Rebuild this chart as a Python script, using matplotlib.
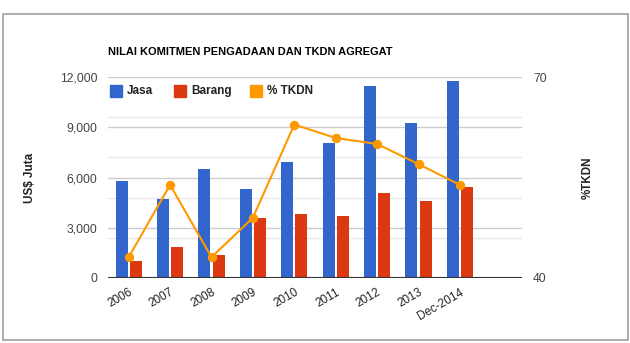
import matplotlib
matplotlib.use("Agg")
import matplotlib.pyplot as plt
from matplotlib.patches import Rectangle
import numpy as np

plt.rcParams['font.family'] = ['Liberation Sans', 'DejaVu Sans']

categories = ["2006", "2007", "2008", "2009", "2010", "2011", "2012", "2013", "Dec-2014"]
jasa = [5800, 4700, 6500, 5330, 6900, 8040, 11450, 9230, 11750]
barang = [1000, 1830, 1350, 3560, 3800, 3680, 5050, 4580, 5450]
tkdn = [43.1, 53.9, 43.1, 49.0, 62.9, 60.9, 60.0, 57.0, 53.9]

left_ticks = [0, 3000, 6000, 9000, 12000]
right_min, right_max = 40, 70
right_grid = [46, 52, 58, 64]

C_JASA = "#3366CC"
C_BARANG = "#DC3912"
C_TKDN = "#FF9900"

W, H = 630, 343
fig = plt.figure(figsize=(W / 100, H / 100), dpi=100)

# outer frame
fig.patches.append(Rectangle((2.5 / W, (H - 340) / H), (628 - 2.5) / W, (340 - 14) / H,
                             transform=fig.transFigure, fill=False, edgecolor="#a0a0a0",
                             linewidth=1.2))

ax = fig.add_axes([108 / W, 1 - 278 / H, (522 - 108) / W, (278 - 77) / H])
ax2 = ax.twinx()

x = np.arange(len(categories))
bw = 0.29
off = 0.17
ax.bar(x - off, jasa, width=bw, color=C_JASA, zorder=3)
ax.bar(x + off, barang, width=bw, color=C_BARANG, zorder=3)

ax.set_xlim(-0.5, 9.5)
ax.set_ylim(0, 12000)
ax.set_yticks(left_ticks)
ax.set_yticklabels([f"{v:,}" for v in left_ticks])
# light gridlines matching the right axis divisions
ax.set_yticks([12000 * (v - right_min) / (right_max - right_min) for v in right_grid], minor=True)
ax.grid(axis="y", which="major", color="#cccccc", linewidth=1.0, zorder=0)
ax.grid(axis="y", which="minor", color="#e8e8e8", linewidth=1.0, zorder=0)
ax.tick_params(axis="y", which="both", length=0, pad=7.5, labelsize=8.7, labelcolor="#444444")
ax.axhline(0, color="#333333", linewidth=1.5, zorder=4)

ax.set_xticks(x)
ax.set_xticklabels(categories, rotation=30, ha="right", rotation_mode="anchor")
ax.tick_params(axis="x", length=0, pad=6, labelsize=8.5, labelcolor="#222222")

for s in ax.spines.values():
    s.set_visible(False)
for s in ax2.spines.values():
    s.set_visible(False)

ax2.plot(x, tkdn, color=C_TKDN, linewidth=1.5, marker="o", markersize=6.8,
         markeredgewidth=0, zorder=5)
ax2.set_ylim(right_min, right_max)
ax2.set_yticks([right_min, right_max])
ax2.tick_params(axis="y", length=0, pad=8, labelsize=8.7, labelcolor="#444444")

ax.set_ylabel("US$ Juta", fontsize=8.4, fontweight="bold", color="#222222", labelpad=0)
ax.yaxis.set_label_coords((36 - 108) / (522 - 108), 0.5)
ax2.set_ylabel("%TKDN", fontsize=8.4, fontweight="bold", color="#222222")
ax2.yaxis.set_label_coords((582 - 108) / (522 - 108), 0.5)

fig.text(108 / W, 1 - 52 / H, "NILAI KOMITMEN PENGADAAN DAN TKDN AGREGAT",
         fontsize=7.9, fontweight="bold", color="#000000", ha="left", va="center")

# legend
legend_items = [(110, "Jasa", C_JASA), (174, "Barang", C_BARANG), (250, "% TKDN", C_TKDN)]
ly = 91
for lx, label, col in legend_items:
    fig.patches.append(Rectangle((lx / W, 1 - (ly + 6) / H), 12 / W, 12 / H,
                                 transform=fig.transFigure, color=col, zorder=10))
    fig.text((lx + 17) / W, 1 - ly / H, label, fontsize=8.5, fontweight="bold",
             color="#222222", ha="left", va="center")

fig.savefig("out.png", dpi=100)
